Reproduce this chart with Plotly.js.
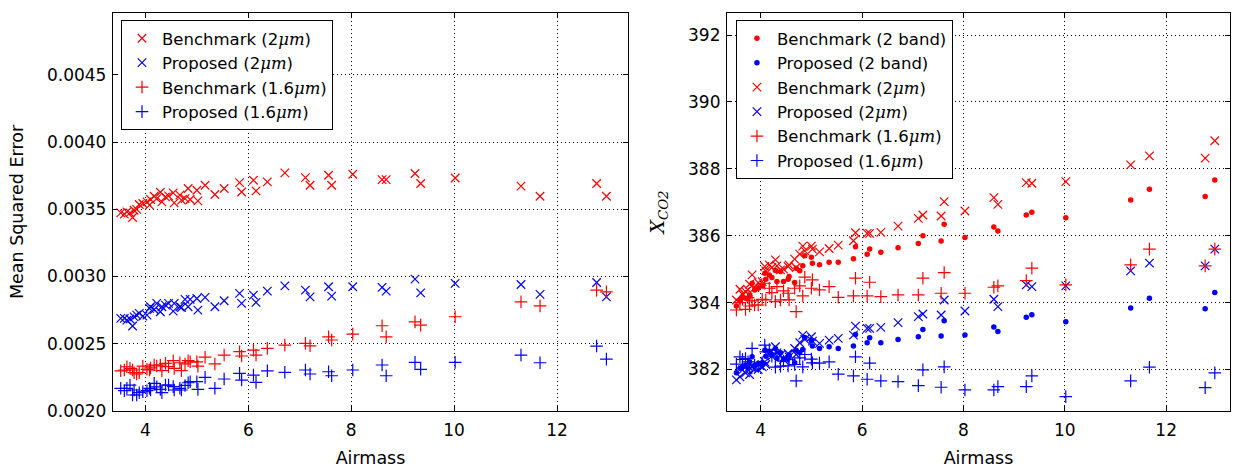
<!DOCTYPE html>
<html><head><meta charset="utf-8">
<script src="https://cdn.plot.ly/plotly-3.0.1.min.js"></script>
<style>html,body{margin:0;padding:0;background:#fff}#chart{width:1247px;height:468px}</style>
</head><body><div id="chart"></div>
<script>
const airmass = [3.52,3.59,3.64,3.70,3.75,3.78,3.83,3.88,3.95,4.03,4.08,4.10,4.17,4.22,4.29,4.32,4.39,4.45,4.54,4.56,4.67,4.70,4.77,4.83,4.87,5.00,5.02,5.16,5.35,5.53,5.83,5.87,6.10,6.15,6.37,6.71,7.11,7.20,7.56,7.62,8.03,8.60,8.68,9.24,9.35,10.02,11.30,11.67,12.77,12.96];

// Left panel: mean squared error
const mseBench2um = [0.003473,0.003464,0.003481,0.003473,0.003439,0.003493,0.003499,0.003536,0.003543,0.003555,
  0.003531,0.003573,0.003597,0.003580,0.003627,0.003555,0.003592,0.003600,0.003622,0.003548,
  0.003605,0.003568,0.003580,0.003655,0.003573,0.003642,0.003563,0.003679,0.003610,0.003655,
  0.003699,0.003629,0.003716,0.003637,0.003704,0.003771,0.003736,0.003679,0.003753,0.003679,
  0.003761,0.003721,0.003721,0.003766,0.003692,0.003733,0.003672,0.003597,0.003692,0.003597];
const mseProp2um = [0.002689,0.002689,0.002676,0.002684,0.002632,0.002700,0.002713,0.002726,0.002706,0.002713,
  0.002763,0.002775,0.002755,0.002800,0.002738,0.002775,0.002788,0.002800,0.002743,0.002800,
  0.002775,0.002770,0.002830,0.002775,0.002830,0.002837,0.002750,0.002845,0.002775,0.002820,
  0.002875,0.002800,0.002862,0.002808,0.002892,0.002931,0.002899,0.002849,0.002924,0.002854,
  0.002924,0.002919,0.002892,0.002981,0.002879,0.002949,0.002941,0.002867,0.002956,0.002849];
const mseBench16 = [0.002299,0.002305,0.002329,0.002317,0.002305,0.002285,0.002275,0.002285,0.002334,0.002310,
  0.002305,0.002320,0.002342,0.002335,0.002342,0.002300,0.002354,0.002330,0.002374,0.002317,
  0.002359,0.002300,0.002350,0.002374,0.002366,0.002366,0.002334,0.002400,0.002350,0.002416,
  0.002441,0.002409,0.002453,0.002416,0.002466,0.002490,0.002503,0.002485,0.002552,0.002528,
  0.002572,0.002634,0.002552,0.002663,0.002639,0.002701,0.002812,0.002782,0.002899,0.002886];
const mseProp16 = [0.002169,0.002151,0.002169,0.002193,0.002119,0.002156,0.002119,0.002136,0.002143,0.002151,
  0.002169,0.002156,0.002206,0.002180,0.002161,0.002136,0.002193,0.002193,0.002181,0.002156,
  0.002169,0.002156,0.002190,0.002210,0.002218,0.002218,0.002161,0.002250,0.002169,0.002238,
  0.002280,0.002230,0.002267,0.002213,0.002299,0.002288,0.002305,0.002275,0.002292,0.002262,
  0.002305,0.002342,0.002262,0.002362,0.002310,0.002362,0.002416,0.002359,0.002483,0.002386];

// Right panel: XCO2
const xco2Bench2band = [383.90,384.08,384.18,384.13,384.13,384.23,384.58,384.38,384.43,384.50,
  384.88,384.70,384.83,384.75,384.96,384.63,384.93,384.63,384.70,384.78,
  384.60,385.03,384.95,385.10,385.40,385.36,385.18,385.13,385.21,385.21,
  385.31,385.67,385.45,385.60,385.51,385.64,385.77,386.00,385.84,386.34,
  385.95,386.26,386.14,386.62,386.70,386.54,387.07,387.39,387.17,387.67];
const xco2Prop2band = [381.90,382.04,382.08,382.13,382.04,382.23,382.38,382.13,382.18,382.20,
  382.58,382.40,382.53,382.45,382.63,382.33,382.50,382.31,382.33,382.43,
  382.20,382.58,382.50,382.60,382.96,382.86,382.70,382.63,382.68,382.63,
  382.70,383.05,382.80,382.95,382.80,382.90,382.98,383.20,383.00,383.46,
  383.03,383.27,383.14,383.56,383.64,383.43,383.84,384.13,383.82,384.30];
const xco2Bench2um = [384.08,384.40,384.25,384.33,384.38,384.55,384.83,384.45,384.60,384.63,
  385.08,384.95,385.13,385.05,385.28,385.10,384.98,385.00,385.08,385.13,
  385.30,385.05,385.45,385.69,385.55,385.69,385.60,385.52,385.62,385.72,
  385.85,386.09,386.07,386.07,386.10,386.29,386.52,386.62,386.59,387.02,
  386.74,387.14,386.94,387.59,387.57,387.62,388.12,388.39,388.32,388.84];
const xco2Prop2um = [381.69,381.78,381.99,381.90,381.99,381.85,382.08,382.04,382.00,382.08,
  382.23,382.15,382.48,382.40,382.68,382.50,382.43,382.30,382.48,382.38,
  382.63,382.45,382.80,383.03,382.90,382.98,382.85,382.78,382.88,382.93,
  383.03,383.30,383.23,383.23,383.26,383.40,383.58,383.66,383.63,384.08,
  383.75,384.10,383.88,384.53,384.48,384.50,384.95,385.18,385.10,385.60];
const xco2Bench16 = [383.78,384.00,384.10,383.80,384.15,383.90,384.05,383.93,383.93,384.10,
  384.58,384.08,384.43,384.30,384.03,384.48,384.08,384.35,384.28,384.08,
  384.43,383.73,384.50,384.20,384.76,384.43,384.68,384.38,384.48,384.16,
  384.20,384.73,384.20,384.61,384.18,384.23,384.23,384.73,384.28,384.90,
  384.28,384.46,384.50,384.66,385.03,384.53,385.13,385.60,385.10,385.60];
const xco2Prop16 = [382.16,382.38,382.30,382.33,382.23,382.05,382.63,382.13,382.10,382.20,
  382.73,382.53,382.60,382.40,382.07,382.48,382.10,382.25,382.11,382.30,
  382.15,381.66,382.35,382.08,382.45,382.31,382.20,382.19,382.23,381.86,
  381.81,382.38,381.71,382.19,381.66,381.64,381.52,381.99,381.47,382.08,
  381.39,381.39,381.49,381.49,381.81,381.19,381.66,382.07,381.46,381.90];

const um = '<span style="font-family:\'DejaVu Serif\'"><i>μm</i></span>';
const RED = '#ff0000', BLUE = '#0000ff';

function mk(kind, color) {
  if (kind === 'x') return {symbol:'x-thin', size:8.5, color:color, line:{color:color, width:1.2}};
  if (kind === '+') return {symbol:'cross-thin', size:9, color:color, line:{color:color, width:1.2}};
  return {symbol:'circle', size:5.5, color:color, line:{width:0}};
}
function tr(y, name, kind, color, ax, leg) {
  return {x: airmass, y: y, name: name, type:'scatter', mode:'markers', marker: mk(kind, color),
    xaxis: ax === 2 ? 'x2' : 'x', yaxis: ax === 2 ? 'y2' : 'y', legend: leg, legendgroup: name + ax};
}

const data = [
  tr(mseBench2um, 'Benchmark (2' + um + ')', 'x', RED, 1, 'legend'),
  tr(mseProp2um, 'Proposed (2' + um + ')', 'x', BLUE, 1, 'legend'),
  tr(mseBench16, 'Benchmark (1.6' + um + ')', '+', RED, 1, 'legend'),
  tr(mseProp16, 'Proposed (1.6' + um + ')', '+', BLUE, 1, 'legend'),
  tr(xco2Bench2band, 'Benchmark (2 band)', 'o', RED, 2, 'legend2'),
  tr(xco2Prop2band, 'Proposed (2 band)', 'o', BLUE, 2, 'legend2'),
  tr(xco2Bench2um, 'Benchmark (2' + um + ')', 'x', RED, 2, 'legend2'),
  tr(xco2Prop2um, 'Proposed (2' + um + ')', 'x', BLUE, 2, 'legend2'),
  tr(xco2Bench16, 'Benchmark (1.6' + um + ')', '+', RED, 2, 'legend2'),
  tr(xco2Prop16, 'Proposed (1.6' + um + ')', '+', BLUE, 2, 'legend2')
];

const F = 'DejaVu Sans, sans-serif';
function axis(extra) {
  return Object.assign({
    showline:true, linecolor:'black', linewidth:1.3, mirror:'allticks',
    ticks:'inside', ticklen:5, tickwidth:1, tickcolor:'black',
    showgrid:true, gridcolor:'black', griddash:'1px,3px', gridwidth:1,
    zeroline:false, tickfont:{family:F, size:17, color:'black'}, automargin:false
  }, extra);
}
const legStyle = {bordercolor:'black', borderwidth:1, bgcolor:'white', font:{family:F, size:16.5, color:'black'},
  xanchor:'left', yanchor:'top', traceorder:'grouped', tracegroupgap:0, itemwidth:30};

const layout = {
  width:1247, height:468, paper_bgcolor:'white', plot_bgcolor:'white',
  margin:{l:113, r:17, t:13, b:57}, showlegend:true,
  font:{family:F, size:16, color:'black'},
  xaxis: axis({domain:[0, 0.46106], range:[3.37, 13.38], dtick:2, tick0:0, ticklabelstandoff:3,
    title:{text:'Airmass', font:{family:F, size:17.5}, standoff:17}}),
  yaxis: axis({domain:[0,1], range:[0.002, 0.00496], dtick:0.0005, tick0:0, tickformat:'.4f', ticklabelstandoff:2,
    title:{text:'Mean Squared Error', font:{family:F, size:17.5}, standoff:18}}),
  xaxis2: axis({domain:[0.54969, 1], range:[3.335, 13.26], dtick:2, tick0:0, anchor:'y2', ticklabelstandoff:3,
    title:{text:'Airmass', font:{family:F, size:17.5}, standoff:17}}),
  yaxis2: axis({domain:[0,1], range:[380.76, 392.66], dtick:2, tick0:0, anchor:'x2', ticklabelstandoff:2,
    title:{text:'<i>X</i><sub><i>CO2</i></sub>', font:{family:'DejaVu Serif, serif', size:19}, standoff:18}}),
  legend: Object.assign({x:0.00716, y:0.9824}, legStyle),
  legend2: Object.assign({x:0.5577, y:0.9824}, legStyle)
};

Plotly.newPlot('chart', data, layout, {displayModeBar:false, responsive:false});
</script></body></html>
